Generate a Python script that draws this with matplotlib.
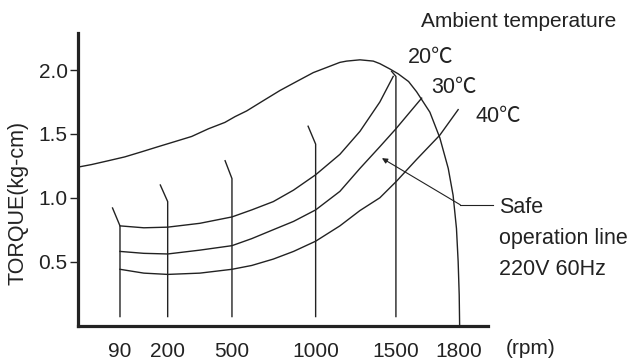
import matplotlib

matplotlib.use("Agg")
import matplotlib.pyplot as plt
import numpy as np

plt.rcParams["font.family"] = ["Liberation Sans", "Noto Sans CJK KR"]
plt.rcParams["font.size"] = 15

INK = "#222222"

# rpm axis is not linear in the source chart: tick values and where they sit (px)
SCALE_RPM = [-1000, 0, 90, 200, 500, 1000, 1500, 1800, 3000]
SCALE_POS = [-388.7, 78, 120, 167.7, 232, 315.7, 396, 459.3, 715.3]

XTICKS = [90, 200, 500, 1000, 1500, 1800]
YTICKS = [0.5, 1.0, 1.5, 2.0]

# maximum torque envelope
MAX_RPM = [0, 29, 65, 101, 140, 178, 234, 312, 390, 467, 518, 588, 687, 787,
           886, 986, 1089, 1151, 1193, 1276, 1359, 1400, 1460, 1511, 1560,
           1598, 1661, 1708, 1748, 1771, 1787, 1795, 1800, 1802]
MAX_TORQUE = [1.24, 1.26, 1.29, 1.32, 1.36, 1.40, 1.44, 1.48, 1.54, 1.59,
              1.635, 1.68, 1.76, 1.84, 1.91, 1.98, 2.03, 2.06, 2.07, 2.08,
              2.07, 2.05, 2.01, 1.97, 1.91, 1.83, 1.67, 1.47, 1.23, 1.02,
              0.76, 0.50, 0.24, 0.0]

# safe operation lines per ambient temperature
T20_RPM = [90, 145, 200, 350, 500, 618, 747, 868, 1000, 1151, 1276, 1400,
           1483]
T20_TORQUE = [0.78, 0.765, 0.77, 0.80, 0.85, 0.905, 0.97, 1.06, 1.18, 1.34,
              1.52, 1.75, 1.95]

T30_RPM = [90, 145, 200, 350, 500, 618, 747, 868, 1000, 1151, 1276, 1400,
           1500, 1566, 1622]
T30_TORQUE = [0.58, 0.565, 0.56, 0.59, 0.625, 0.68, 0.75, 0.815, 0.905, 1.05,
              1.23, 1.40, 1.54, 1.67, 1.78]

T40_RPM = [90, 145, 200, 350, 500, 618, 747, 868, 1000, 1151, 1276, 1400,
           1503, 1598, 1708, 1795]
T40_TORQUE = [0.44, 0.41, 0.40, 0.41, 0.44, 0.47, 0.52, 0.58, 0.66, 0.78,
              0.90, 1.00, 1.13, 1.30, 1.49, 1.69]

# speed markers: vertical line with a short slanted top
MARK_RPM = [90, 200, 500, 1000, 1500]
MARK_TOP = [0.78, 0.97, 1.15, 1.42, 1.95]
MARK_TIP_RPM = [74, 183, 468, 955, 1473]
MARK_TIP = [0.92, 1.10, 1.29, 1.56, 1.99]
MARK_BOTTOM = 0.07

ARROW_HEAD = (1413, 1.31)
ARROW_TAIL = (1805, 0.945)
ARROW_END = (1958, 0.945)


def fwd(x):
    return np.interp(x, SCALE_RPM, SCALE_POS)


def inv(p):
    return np.interp(p, SCALE_POS, SCALE_RPM)


def px(x, y):
    return x / 637, 1 - y / 361


fig = plt.figure(figsize=(6.37, 3.61), dpi=100)
ax = fig.add_axes([78 / 637, 1 - 325.5 / 361, 410 / 637, 292.5 / 361])
ax.set_xscale("function", functions=(fwd, inv))
ax.set_xlim(0, 1935)
ax.set_ylim(0, 2.29)

lw = 1.0
ax.plot(MAX_RPM, MAX_TORQUE, color=INK, lw=lw, clip_on=False)
for xs, ys in [(T20_RPM, T20_TORQUE), (T30_RPM, T30_TORQUE),
               (T40_RPM, T40_TORQUE)]:
    ax.plot(xs, ys, color=INK, lw=lw, clip_on=False)

for x, top, tx, ty in zip(MARK_RPM, MARK_TOP, MARK_TIP_RPM, MARK_TIP):
    ax.plot([x, x, tx], [MARK_BOTTOM, top, ty], color=INK, lw=lw)

ax.plot([ARROW_TAIL[0], ARROW_END[0]], [ARROW_TAIL[1], ARROW_END[1]],
        color=INK, lw=0.8, clip_on=False)
ax.annotate("", xy=ARROW_HEAD, xytext=ARROW_TAIL,
            arrowprops=dict(arrowstyle="-|>", color=INK, lw=0.8,
                            mutation_scale=8, shrinkA=0, shrinkB=0),
            annotation_clip=False)

for side in ["top", "right"]:
    ax.spines[side].set_visible(False)
for side in ["left", "bottom"]:
    ax.spines[side].set_linewidth(2.3)
    ax.spines[side].set_color(INK)

ax.set_xticks(XTICKS)
ax.set_xticklabels([str(v) for v in XTICKS])
ax.set_yticks(YTICKS)
ax.set_yticklabels([f"{v:.1f}" for v in YTICKS])
ax.xaxis.set_minor_locator(plt.NullLocator())
ax.tick_params(axis="x", length=0, pad=12, labelsize=15, colors=INK)
ax.tick_params(axis="y", length=6, width=1, pad=1.5, labelsize=15,
               colors=INK)

fig.text(*px(18, 203), "TORQUE(kg-cm)", rotation=90, ha="center",
         va="center", fontsize=15.5, color=INK)
fig.text(*px(506, 354), "(rpm)", ha="left", va="baseline", fontsize=15,
         color=INK)
fig.text(*px(421, 27), "Ambient temperature", ha="left", va="baseline",
         fontsize=15, color=INK)
fig.text(*px(408, 63), "20℃", ha="left", va="baseline", fontsize=15.5,
         color=INK)
fig.text(*px(431, 93), "30℃", ha="left", va="baseline", fontsize=15.5,
         color=INK)
fig.text(*px(475, 122), "40℃", ha="left", va="baseline", fontsize=15.5,
         color=INK)
for i, line in enumerate(["Safe", "operation line", "220V 60Hz"]):
    fig.text(*px(499, 213 + i * 31), line, ha="left", va="baseline",
             fontsize=15.5, color=INK)

fig.savefig("out.png", dpi=100)
